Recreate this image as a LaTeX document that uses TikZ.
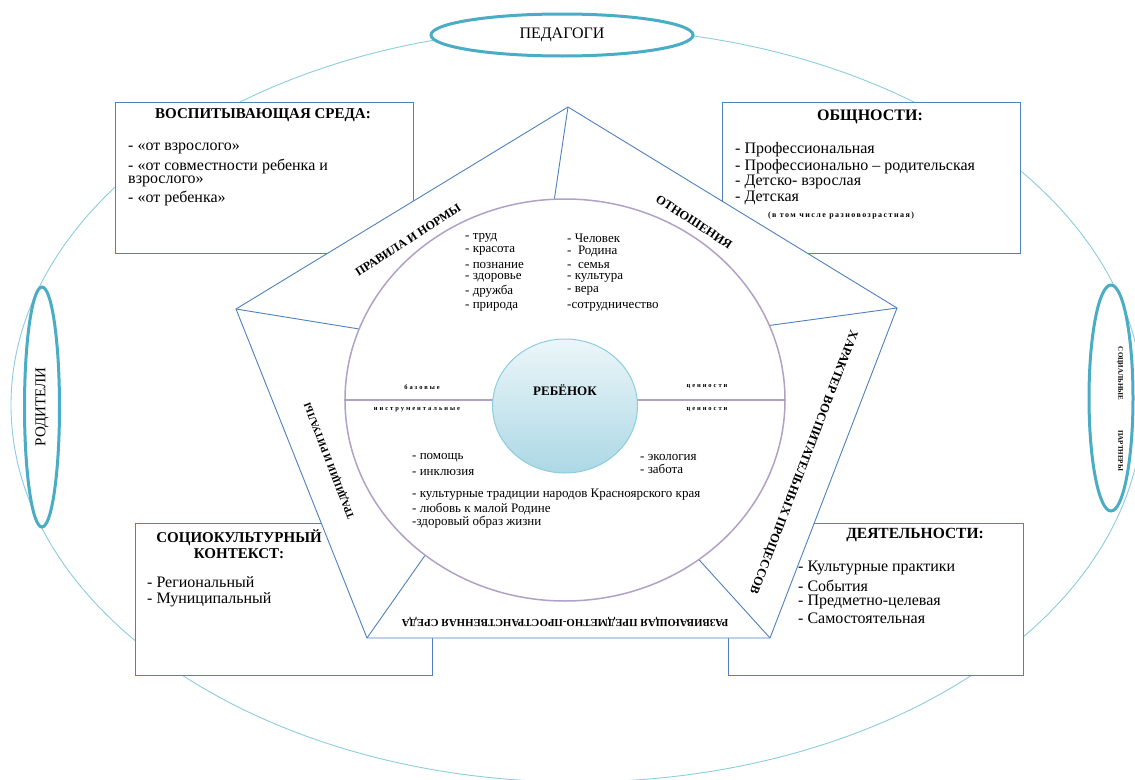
\documentclass[tikz,border=0pt]{standalone}
\usepackage{fontspec}
\setmainfont{Liberation Serif}
\newfontfamily\sperr[LetterSpace=30]{Liberation Serif}
\newfontfamily\sperrklein[LetterSpace=18]{Liberation Serif}
\usetikzlibrary{shapes.geometric}
\usetikzlibrary{calc}

\definecolor{rahmen}{RGB}{79,129,189}
\definecolor{aqua}{RGB}{75,172,198}
\definecolor{hellaqua}{RGB}{140,205,222}
\definecolor{lila}{RGB}{178,161,199}

\tikzset{
  kasten/.style={draw=rahmen, fill=white, line width=0.9pt, inner sep=0pt},
  oval/.style={ellipse, draw=aqua, fill=white, line width=3pt, inner sep=0pt},
  linie/.style={draw=rahmen, line width=0.9pt},
  titel/.style={font=\fontsize{15}{15.5}\selectfont\bfseries, inner sep=0pt},
  eintrag/.style={anchor=west, font=\fontsize{16}{17}\selectfont, inner sep=0pt},
  wert/.style={anchor=west, font=\fontsize{13}{14}\selectfont, inner sep=0pt},
  seite/.style={font=\fontsize{11}{12}\selectfont\bfseries, inner sep=0pt},
  klein/.style={font=\sperr\bfseries\fontsize{6.5}{7}\selectfont, inner sep=0pt}
}

\begin{document}
\begin{tikzpicture}[x=1pt,y=-1pt]
  \useasboundingbox (0,0) rectangle (1135,779);
  \fill[white] (0,0) rectangle (1135,779);
  % grosse Ellipse
  \draw[hellaqua, line width=0.9pt] (577,405) ellipse [x radius=566pt, y radius=377pt];
  % Beteiligte
  \node[oval, minimum width=262pt, minimum height=42pt] (ped) at (562,35) {};
  \node[oval, minimum width=35pt, minimum height=240pt] (rod) at (42,407) {};
  \node[oval, minimum width=44pt, minimum height=226pt] (sp) at (1111,398) {};
  \node[font=\fontsize{16}{17}\selectfont] (pedtext) at (ped) {ПЕДАГОГИ};
  \node[font=\fontsize{15}{16}\selectfont, rotate=90] (rodtext) at (rod) {РОДИТЕЛИ};
  \node[font=\fontsize{7}{8}\selectfont\bfseries, rotate=-90] (sptext) at (1120,409) {СОЦИАЛЬНЫЕ\hspace{30pt}ПАРТНЕРЫ};

  % Kaesten
  \node[kasten, minimum width=298pt, minimum height=151pt] (vs) at (264,177.5) {};
  \node[kasten, minimum width=298pt, minimum height=151pt] (og) at (871,177.5) {};
  \node[kasten, minimum width=297pt, minimum height=152pt] (sk) at (283.5,599) {};
  \node[kasten, minimum width=295pt, minimum height=152pt] (dt) at (875.5,599) {};

  % Fuenfeck
  \coordinate (pT) at (568,107);
  \coordinate (pL) at (236,309);
  \coordinate (pR) at (897,308);
  \coordinate (pBL) at (367,638);
  \coordinate (pBR) at (770,638);
  \filldraw[linie, fill=white] (pT) -- (pR) -- (pBR) -- (pBL) -- (pL) -- cycle;
  \node[ellipse, draw=lila, line width=1.5pt, minimum width=440pt, minimum height=402pt, inner sep=0pt] (kreis) at (565,400) {};
  \foreach \p/\w in {pT/93,pR/20,pBR/-50,pBL/228,pL/161}
    \draw[linie] (\p) -- (kreis.\w);
  \draw[lila, line width=1.5pt] (kreis.west) -- (kreis.east);
  \node[ellipse, draw=hellaqua, line width=1pt, minimum width=145pt, minimum height=134pt,
        top color={rgb,255:red,236;green,246;blue,249}, bottom color={rgb,255:red,172;green,216;blue,229}] (kind) at (565,406) {};
  \node[font=\fontsize{13}{14}\selectfont\bfseries] (kindtext) at (565,390) {РЕБЁНОК};

  % Beschriftung der Seiten
  \node[seite, font=\fontsize{12}{13}\selectfont\bfseries, rotate=33] (regeln) at (408,240) {ПРАВИЛА И НОРМЫ};
  \node[seite, font=\fontsize{12.5}{13}\selectfont\bfseries, rotate=-33] (bez) at (694,222) {ОТНОШЕНИЯ};
  \node[seite, font=\fontsize{12.5}{13}\selectfont\bfseries, rotate=-111] (proz) at (803,462) {ХАРАКТЕР ВОСПИТАТЕЛЬНЫХ ПРОЦЕССОВ};
  \node[seite, font=\fontsize{10.8}{12}\selectfont\bfseries, rotate=180] (umwelt) at (565,622) {РАЗВИВАЮЩАЯ ПРЕДМЕТНО-ПРОСТРАНСТВЕННАЯ СРЕДА};
  \node[seite, font=\fontsize{10.3}{12}\selectfont\bfseries, rotate=111] (trad) at (330,461) {ТРАДИЦИИ И РИТУАЛЫ};

  % Werte
  \foreach \y/\w in {238/труд,251/красота,265/познание,278/здоровье,291/дружба,307/природа}
    \node[wert] (a\y) at (465,\y) {- \w};
  \foreach \y/\w in {238/{- Человек},251/{-\ \ Родина},265/{-\ \ семья},278/{- культура},291/{- вера},307/{-сотрудничество}}
    \node[wert] (b\y) at (567,\y) {\w};
  \foreach \y/\w in {458/{- помощь},472/{- инклюзия},495/{- культурные традиции народов Красноярского края},509/{- любовь к малой Родине},522/{-здоровый образ жизни}}
    \node[wert] (c\y) at (412,\y) {\w};
  \foreach \y/\w in {457/{- экология},469/{- забота}}
    \node[wert] (d\y) at (640,\y) {\w};
  \node[klein] (bas) at (422,387) {базовые};
  \node[klein] (ins) at (417,410) {инструментальные};
  \node[klein] (zw1) at (707,387) {ценности};
  \node[klein] (zw2) at (707,410) {ценности};

  % Texte in den Kaesten
  \node[titel] (vstitel) at (263,115) {ВОСПИТЫВАЮЩАЯ СРЕДА:};
  \foreach \y/\zeile in {148/{- «от взрослого»},166/{- «от совместности ребенка и},181/{взрослого»},198/{- «от ребенка»}}
    \node[eintrag] (vs\y) at (128,\y) {\zeile};
  \node[titel, font=\fontsize{16}{17}\selectfont\bfseries] (ogtitel) at (870,117) {ОБЩНОСТИ:};
  \foreach \y/\zeile in {150/{- Профессиональная},167/{- Профессионально – родительская},182/{- Детско- взрослая},198/{- Детская}}
    \node[eintrag] (og\y) at (735,\y) {\zeile};
  \node[font=\sperrklein\bfseries\fontsize{8}{9}\selectfont] (ogklein) at (841,216) {(в том числе разновозрастная)};
  \node[titel, align=center] (sktitel) at (239,544) {СОЦИОКУЛЬТУРНЫЙ\\КОНТЕКСТ:};
  \foreach \y/\zeile in {582/{- Региональный},600/{- Муниципальный}}
    \node[eintrag] (sk\y) at (147,\y) {\zeile};
  \node[titel, font=\fontsize{15.5}{16}\selectfont\bfseries] (dttitel) at (915,535) {ДЕЯТЕЛЬНОСТИ:};
  \foreach \y/\zeile in {568/{- Культурные практики},586/{- События},602/{- Предметно-целевая},618/{- Самостоятельная}}
    \node[eintrag] (dt\y) at (798,\y) {\zeile};
\end{tikzpicture}
\end{document}
